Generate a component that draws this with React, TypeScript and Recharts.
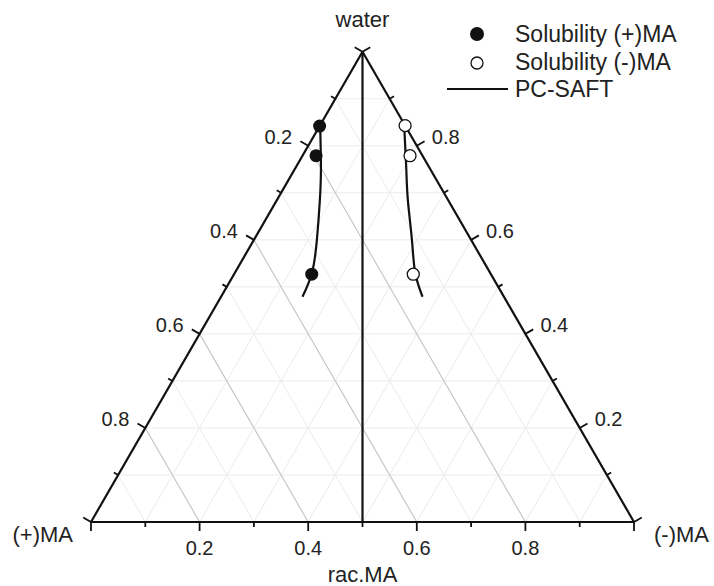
import React from "react";
import { ScatterChart, Scatter, XAxis, YAxis, ReferenceLine, Legend } from "recharts";

const H = Math.sqrt(3) / 2;

// solubility points (mass fractions of water and of (-)MA)
const solPlusWater = [0.842, 0.779, 0.527];
const solPlusMinus = [0.0, 0.025, 0.143];
const solMinusWater = [0.843, 0.779, 0.527];
const solMinusMinus = [0.157, 0.198, 0.33];

// PC-SAFT phase boundaries
const fitLeftWater = [0.844, 0.755, 0.685, 0.6, 0.53, 0.479];
const fitLeftMinus = [0.0, 0.046, 0.079, 0.116, 0.142, 0.15];
const fitRightWater = [0.849, 0.755, 0.685, 0.6, 0.53, 0.479];
const fitRightMinus = [0.152, 0.203, 0.241, 0.291, 0.332, 0.371];

const tickValues = [0, 0.1, 0.2, 0.3, 0.4, 0.5, 0.6, 0.7, 0.8, 0.9, 1];
const labelValues = [0.2, 0.4, 0.6, 0.8];
const gridValues = [0.1, 0.2, 0.3, 0.4, 0.5, 0.6, 0.7, 0.8, 0.9];
const majorGridValues = [0.2, 0.4, 0.6, 0.8];

const vertexNames = ["water", "(+)MA", "(-)MA"];
const bottomTitle = "rac.MA";
const seriesNames = ["Solubility (+)MA", "Solubility (-)MA", "PC-SAFT"];

const FONT = '"Liberation Sans", Arial, Helvetica, sans-serif';
const INK = "#111";

// ternary -> cartesian (bottom edge from (+)MA to (-)MA, water on top)
const toXY = (water: number, minus: number) => ({ x: minus + water / 2, y: water * H });

const zip = (w: number[], m: number[]) => w.map((v, i) => toXY(v, m[i]));

const plusPoints = zip(solPlusWater, solPlusMinus);
const minusPoints = zip(solMinusWater, solMinusMinus);
const fitLeft = zip(fitLeftWater, fitLeftMinus);
const fitRight = zip(fitRightWater, fitRightMinus);

const leftTicks = tickValues.map((p) => ({ ...toXY(1 - p, 0), v: p }));
const rightTicks = tickValues.map((t) => ({ ...toXY(t, 1 - t), v: t }));
const bottomTicks = tickValues.map((u) => ({ ...toXY(0, u), v: u }));

const faintGrid = gridValues.flatMap((v) => [
  [toXY(v, 0), toXY(v, 1 - v)],
  [toXY(0, v), toXY(1 - v, v)],
  [toXY(0, 1 - v), toXY(1 - v, 0)],
]);
const majorGrid = majorGridValues.map((p) => [toXY(0, 1 - p), toXY(1 - p, 0)]);
const edges = [
  [toXY(0, 0), toXY(1, 0)],
  [toXY(0, 1), toXY(1, 0)],
  [toXY(0, 0), toXY(0, 1)],
  [toXY(1, 0), toXY(0, 0.5)],
];

const vertices = [
  { ...toXY(1, 0), name: vertexNames[0] },
  { ...toXY(0, 0), name: vertexNames[1] },
  { ...toXY(0, 1), name: vertexNames[2] },
  { ...toXY(0, 0.5), name: bottomTitle },
];

const isMajor = (v: number) => Math.round(v * 10) % 2 === 0;
const isLabelled = (v: number) => labelValues.some((l) => Math.abs(l - v) < 1e-6);

const makeTick =
  (dx: number, dy: number, lx: number, ly: number, anchor: string) => (props: any) => {
    const { cx, cy, payload } = props;
    const len = isMajor(payload.v) ? 9 : 5;
    return (
      <g>
        <line x1={cx} y1={cy} x2={cx + dx * len} y2={cy + dy * len} stroke={INK} strokeWidth={1.8} />
        {isLabelled(payload.v) && (
          <text
            x={cx + lx}
            y={cy + ly}
            dy="0.35em"
            textAnchor={anchor}
            fontSize={20}
            fontFamily={FONT}
            fill="#222"
          >
            {payload.v.toFixed(1)}
          </text>
        )}
      </g>
    );
  };

const vertexLabel = (props: any) => {
  const { cx, cy, payload, index } = props;
  const place = [
    { dx: 0, dy: -25, a: "middle" },
    { dx: -18, dy: 20, a: "end" },
    { dx: 20, dy: 20, a: "start" },
    { dx: 0, dy: 60, a: "middle" },
  ][index];
  return (
    <text x={cx + place.dx} y={cy + place.dy} textAnchor={place.a} fontSize={22} fontFamily={FONT} fill="#222">
      {payload.name}
    </text>
  );
};

const filledDot = (props: any) => <circle cx={props.cx} cy={props.cy} r={6.5} fill={INK} />;
const openDot = (props: any) => (
  <circle cx={props.cx} cy={props.cy} r={6} fill="#fff" stroke={INK} strokeWidth={1.3} />
);
const noDot = () => <g />;

const LegendBox = () => (
  <svg width={274} height={110} style={{ display: "block" }}>
    <circle cx={37} cy={34} r={7} fill={INK} />
    <circle cx={37} cy={63} r={6} fill="#fff" stroke={INK} strokeWidth={1.3} />
    <line x1={7} y1={89} x2={68} y2={89} stroke={INK} strokeWidth={2.2} />
    {seriesNames.map((n, i) => (
      <text key={n} x={75} y={42 + i * 27.5} fontSize={23} fontFamily={FONT} fill="#222">
        {n}
      </text>
    ))}
  </svg>
);

const seg = (s: { x: number; y: number }[], stroke: string, width: number, key: string) => (
  <ReferenceLine
    key={key}
    segment={[s[0], s[1]]}
    stroke={stroke}
    strokeWidth={width}
    ifOverflow="visible"
  />
);

export default function App() {
  return (
    <div style={{ position: "absolute", left: 0, top: 0, background: "#fff" }}>
      <ScatterChart width={714} height={586} margin={{ top: 0, right: 0, bottom: 0, left: 0 }}>
        <XAxis type="number" dataKey="x" domain={[-91 / 543, 623 / 543]} hide allowDataOverflow />
        <YAxis type="number" dataKey="y" domain={[-64 / 543, 522 / 543]} hide allowDataOverflow />
        {faintGrid.map((s, i) => seg(s, "#ebebeb", 1, "f" + i))}
        {majorGrid.map((s, i) => seg(s, "#c6c6c6", 1.1, "m" + i))}
        {edges.map((s, i) => seg(s, INK, 2.2, "e" + i))}
        <Scatter data={leftTicks} shape={makeTick(-H, -0.5, -16, -8.5, "end")} legendType="none" isAnimationActive={false} />
        <Scatter data={rightTicks} shape={makeTick(H, -0.5, 15, -8.5, "start")} legendType="none" isAnimationActive={false} />
        <Scatter data={bottomTicks} shape={makeTick(0, 1, 0, 26, "middle")} legendType="none" isAnimationActive={false} />
        <Scatter data={vertices} shape={vertexLabel} legendType="none" isAnimationActive={false} />
        <Scatter
          name={seriesNames[2]}
          data={fitLeft}
          line={{ stroke: INK, strokeWidth: 2.2 }}
          lineJointType="natural"
          shape={noDot}
          isAnimationActive={false}
        />
        <Scatter
          data={fitRight}
          line={{ stroke: INK, strokeWidth: 2.2 }}
          lineJointType="natural"
          shape={noDot}
          legendType="none"
          isAnimationActive={false}
        />
        <Scatter name={seriesNames[0]} data={plusPoints} shape={filledDot} isAnimationActive={false} />
        <Scatter name={seriesNames[1]} data={minusPoints} shape={openDot} isAnimationActive={false} />
        <Legend
          layout="vertical"
          align="center"
          verticalAlign="middle"
          content={() => <LegendBox />}
          wrapperStyle={{ left: 440, top: 0, width: 274 }}
        />
      </ScatterChart>
    </div>
  );
}
